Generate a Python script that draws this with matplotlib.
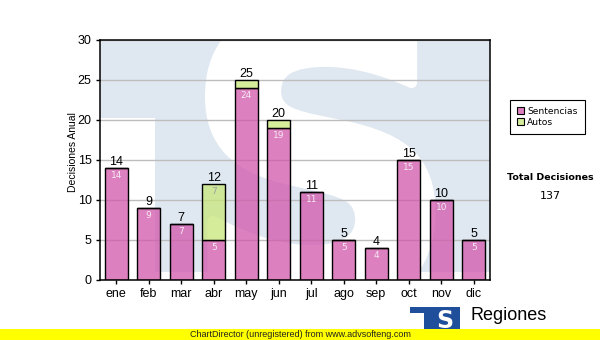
import matplotlib
matplotlib.use('Agg')
import matplotlib.pyplot as plt
from matplotlib.patches import Rectangle, PathPatch, Patch
from matplotlib.textpath import TextPath
from matplotlib.font_manager import FontProperties
from matplotlib.transforms import Affine2D

months = ['ene', 'feb', 'mar', 'abr', 'may', 'jun', 'jul', 'ago', 'sep', 'oct', 'nov', 'dic']
sentencias = [14, 9, 7, 5, 24, 19, 11, 5, 4, 15, 10, 5]
autos = [0, 0, 0, 7, 1, 1, 0, 0, 0, 0, 0, 0]
series_names = ['Sentencias', 'Autos']
y_ticks = [0, 5, 10, 15, 20, 25, 30]
total_label = 'Total Decisiones'

W, H = 600, 340
fig = plt.figure(figsize=(W / 100, H / 100), dpi=100)
fig.patch.set_facecolor('white')
ax = fig.add_axes([100 / W, 1 - 280 / H, 390 / W, 240 / H])
ax.set_xlim(-0.5, 11.5)
ax.set_ylim(0, 30)
ax.set_facecolor('white')

# faded logo in the plot background
wm = '#dfe8f1'
ax.add_patch(Rectangle((-0.5, 1.0), 12, 30, facecolor=wm, edgecolor='none', zorder=0.1))
ax.add_patch(Rectangle((-0.5, 0), 1.69, 20.25, facecolor='white', edgecolor='none', zorder=0.2))
tp = TextPath((0, 0), 'S', size=1, prop=FontProperties(family='DejaVu Sans', weight='bold'))
ext = tp.get_extents()
sx0, sx1, sy0, sy1 = 2.9, 9.65, -3.0, 34.0
tr = (Affine2D().translate(-ext.x0, -ext.y0)
      .scale((sx1 - sx0) / ext.width, (sy1 - sy0) / ext.height)
      .translate(sx0, sy0))
ax.add_patch(PathPatch(tr.transform_path(tp), facecolor='white', edgecolor='white',
                       linewidth=8, joinstyle='round', zorder=0.3))

ax.set_axisbelow(True)
ax.yaxis.grid(True, color='#bdbdbd', linewidth=1.0)
ax.xaxis.grid(False)

pink = (0.824, 0.337, 0.671, 0.75)
green = (0.784, 0.902, 0.478, 0.75)
x = list(range(len(months)))
bw = 0.7
ax.bar(x, sentencias, width=bw, color=pink, edgecolor='black', linewidth=1.0, zorder=2)
ax.bar(x, autos, width=bw, bottom=sentencias, color=green, edgecolor='black', linewidth=1.0, zorder=2)

for i in x:
    s, a = sentencias[i], autos[i]
    tot = s + a
    ax.annotate(str(tot), (i, tot), xytext=(0, 0.3), textcoords='offset points',
                ha='center', va='bottom', fontsize=9, family='Liberation Sans', color='black', zorder=4)
    if s >= 2:
        ax.annotate(str(s), (i, s), xytext=(0, -2.5), textcoords='offset points',
                    ha='center', va='top', fontsize=6.5, family='DejaVu Sans', color='#f6eaf3', zorder=4)
    if a >= 2:
        ax.annotate(str(a), (i, s + a), xytext=(0, -2.5), textcoords='offset points',
                    ha='center', va='top', fontsize=6.5, family='DejaVu Sans', color='#a0a0a0', zorder=4)

ax.set_xticks(x)
ax.set_xticklabels(months, fontsize=9, family='Liberation Sans')
ax.set_yticks(y_ticks)
ax.set_yticklabels([str(v) for v in y_ticks], fontsize=9, family='Liberation Sans')
ax.tick_params(axis='both', direction='out', length=3, width=1, color='black', pad=3)
for sp in ax.spines.values():
    sp.set_color('black')
    sp.set_linewidth(1.1)
    sp.set_zorder(5)

fig.text(73 / W, 1 - 152 / H, 'Decisiones Anual', rotation=90, ha='center', va='center',
         fontsize=7.5, family='Liberation Sans')

handles = [Patch(facecolor=pink, edgecolor='black', linewidth=0.8),
           Patch(facecolor=green, edgecolor='black', linewidth=0.8)]
leg = fig.legend(handles, series_names, loc='upper left', bbox_to_anchor=(510 / W, 1 - 100 / H),
                 frameon=True, fancybox=False, edgecolor='black', framealpha=1,
                 prop={'family': 'DejaVu Sans', 'size': 6.6}, handlelength=0.8, handleheight=0.8,
                 handletextpad=0.35, borderpad=0.75, labelspacing=0.2, borderaxespad=0)
leg.get_frame().set_linewidth(0.8)

fig.text(550 / W, 1 - 177 / H, total_label, ha='center', va='center', fontsize=6.8,
         family='DejaVu Sans', weight='bold')
fig.text(550 / W, 1 - 196 / H, str(sum(sentencias) + sum(autos)), ha='center', va='center',
         fontsize=8, family='DejaVu Sans')

# brand logo at the bottom right
logo_blue = '#1f4f9a'
fig.add_artist(Rectangle((410 / W, 1 - 313 / H), 50 / W, 6 / H, transform=fig.transFigure,
                         facecolor=logo_blue, edgecolor='none', zorder=3))
fig.add_artist(Rectangle((424 / W, 1 - 332 / H), 36 / W, 25 / H, transform=fig.transFigure,
                         facecolor=logo_blue, edgecolor='none', zorder=3))
fig.text(445 / W, 1 - 321 / H, 'S', ha='center', va='center', fontsize=17, weight='bold',
         family='DejaVu Sans', color='white', zorder=4)
fig.text(470 / W, 1 - 315 / H, 'Regiones', ha='left', va='center', fontsize=13,
         family='Liberation Sans', color='black', zorder=3)
fig.text(468 / W, 1 - 335 / H, 'Tribunal Superior de Justicia', ha='left', va='center', fontsize=7,
         family='Liberation Sans', color='#222222', zorder=3)

fig.add_artist(Rectangle((0, 0), 1, 11 / H, transform=fig.transFigure,
                         facecolor='#ffff00', edgecolor='none', zorder=6))
fig.text(300 / W, 1 - 334.5 / H, 'ChartDirector (unregistered) from www.advsofteng.com',
         ha='center', va='center', fontsize=6.5, family='Liberation Sans', color='#222222', zorder=7)

fig.savefig('out.png', dpi=100)
